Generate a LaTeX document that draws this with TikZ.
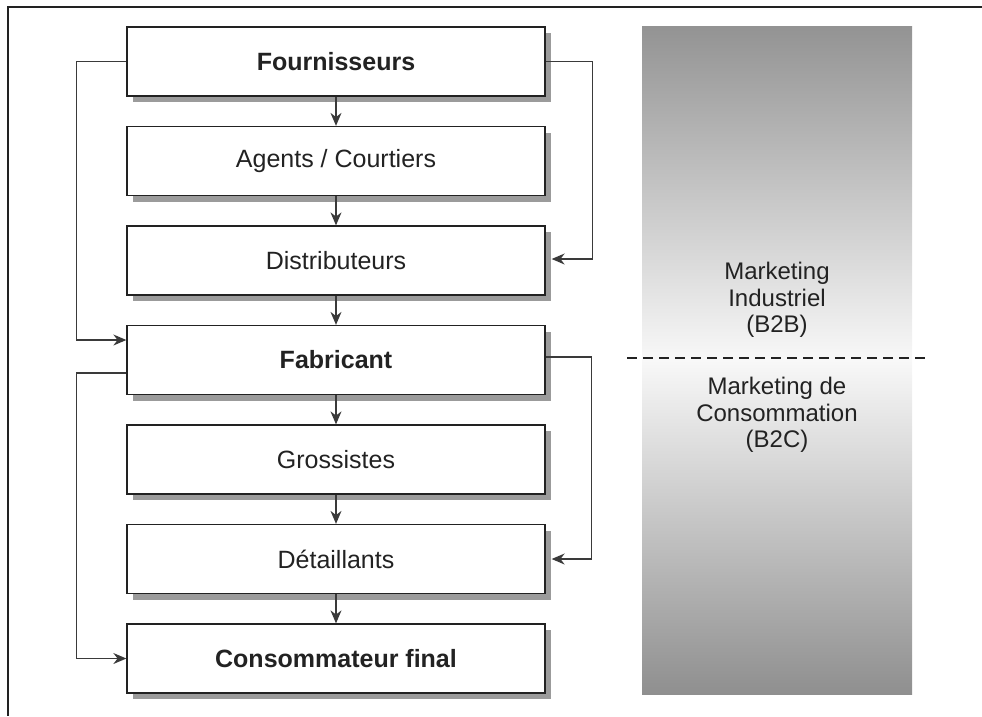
\documentclass[tikz,border=0pt]{standalone}
\usepackage{fontspec}
\setmainfont{Liberation Sans}
\usetikzlibrary{arrows.meta,shadows}
\definecolor{ink}{HTML}{222222}
\definecolor{lineg}{HTML}{3A3A3A}
\definecolor{shadowg}{HTML}{9B9B9B}
\definecolor{gtop}{HTML}{939393}
\definecolor{gbot}{HTML}{8F8F8F}
\definecolor{gmid}{HTML}{F8F8F8}
\begin{document}
\begin{tikzpicture}[x=1pt,y=-1pt,
  box/.style={draw=ink, line width=1.3pt, fill=white, minimum width=418pt, minimum height=69pt,
    inner sep=0pt, text=ink, font=\fontsize{25}{29}\selectfont,
    drop shadow={shadow xshift=6pt, shadow yshift=-6pt, fill=shadowg, opacity=1}},
  conn/.style={draw=lineg, line width=1.3pt, -{Stealth[length=13pt,width=11pt]}},
  frame/.style={draw=ink, line width=1.5pt},
  side/.style={text=ink, align=center, font=\fontsize{24}{26.5}\selectfont}
]
\useasboundingbox (0,0) rectangle (982,716);
% frame (top and left)
\draw[frame] (982,7) -- (8,7) -- (8,716);
% gradient panel
\shade[top color=gtop, bottom color=gbot, middle color=gmid] (642,26) rectangle (912,694);
\draw[draw=ink, line width=1.2pt, dash pattern=on 10pt off 6pt] (627,358) -- (925,358);
\node[side] (b2b) at (777,300) {Marketing\\Industriel\\(B2B)};
\node[side] (b2c) at (777,415) {Marketing de\\Consommation\\(B2C)};
% boxes
\node[box] (f1) at (336,61.5) {\bfseries Fournisseurs};
\node[box] (f2) at (336,161) {Agents / Courtiers};
\node[box] (f3) at (336,260.5) {Distributeurs};
\node[box] (f4) at (336,360) {\bfseries Fabricant};
\node[box] (f5) at (336,459.5) {Grossistes};
\node[box] (f6) at (336,559) {Détaillants};
\node[box] (f7) at (336,658.5) {\bfseries Consommateur final};
% vertical arrows
\draw[conn] (f1) -- (f2);
\draw[conn] (f2) -- (f3);
\draw[conn] (f3) -- (f4);
\draw[conn] (f4) -- (f5);
\draw[conn] (f5) -- (f6);
\draw[conn] (f6) -- (f7);
% side connectors
\draw[conn] (f1.west) -- ++(-50,0) |- ([yshift=20pt]f4.west);
\draw[conn] ([yshift=-13pt]f4.west) -- ++(-50,0) |- (f7.west);
\draw[conn] (f1.east) -- ++(47,0) |- ([xshift=6pt,yshift=1.5pt]f3.east);
\draw[conn] ([yshift=3pt]f4.east) -- ++(46,0) |- ([xshift=6pt]f6.east);
\end{tikzpicture}
\end{document}
